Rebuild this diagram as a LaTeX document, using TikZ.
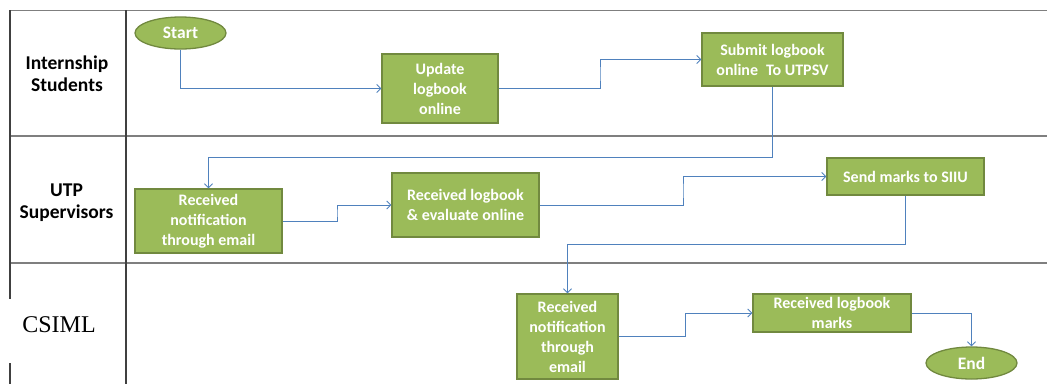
\documentclass[tikz,border=0pt]{standalone}
\usepackage{fontspec}
\setmainfont{Carlito}
\newfontfamily\timesf{Liberation Serif}
\usetikzlibrary{arrows.meta,shapes.geometric,calc}
\definecolor{boxfill}{HTML}{9BBB59}
\definecolor{boxdraw}{HTML}{71893F}
\definecolor{conncol}{HTML}{4F81BD}
\definecolor{gridcol}{HTML}{7F7F7F}
\definecolor{vcol}{HTML}{404040}
\begin{document}
\begin{tikzpicture}[x=1pt,y=-1pt,
 stepbox/.style={draw=boxdraw,fill=boxfill,line width=1.3pt,text=white,font=\bfseries\fontsize{16}{20}\selectfont,align=center,inner sep=0pt},
 term/.style={ellipse,draw=boxdraw,fill=boxfill,line width=1.3pt,text=white,font=\bfseries\fontsize{17.5}{20}\selectfont,minimum width=91pt,minimum height=32pt,inner sep=0pt},
 conn/.style={draw=conncol,line width=0.9pt,-{Straight Barb[length=4pt,width=8pt]}},
 lane/.style={draw=gridcol,line width=1.4pt},
 vline/.style={draw=vcol,line width=1.1pt},
 head/.style={font=\bfseries\fontsize{19.5}{22}\selectfont,align=center}]
\useasboundingbox (0,0) rectangle (1047,384);

% lanes
\draw[lane] (10,10.5) -- (1047,10.5);
\draw[lane] (10,136) -- (1047,136);
\draw[lane] (10,263) -- (1047,263);
\draw[vline] (10,10) -- (10,299);
\draw[vline] (10,363) -- (10,384);
\draw[vline] (126,10) -- (126,384);

% lane headers
\node[head] (h1) at (67,74) {Internship\\Students};
\node[head] (h2) at (66.5,203) {UTP\\Supervisors};
\node[font=\timesf\fontsize{24}{28}\selectfont] (h3) at (59,325) {CSIML};

% nodes
\node[term] (start) at (180.5,33) {Start};
\node[stepbox,minimum width=116pt,minimum height=69pt] (update) at (440,88.5) {Update\\logbook\\online};
\node[stepbox,minimum width=141pt,minimum height=53pt] (submit) at (772.5,59.5) {Submit logbook\\online\enspace To UTPSV};
\node[stepbox,minimum width=147pt,minimum height=64pt] (recv1) at (208.5,221) {Received\\notification\\through email};
\node[stepbox,minimum width=147pt,minimum height=64pt] (recv2) at (465.5,205) {Received logbook\\\& evaluate online};
\node[stepbox,minimum width=157pt,minimum height=37pt] (send) at (905.5,176.5) {Send marks to SIIU};
\node[stepbox,minimum width=101pt,minimum height=85pt] (recv3) at (567.5,336.5) {Received\\notification\\through\\email};
\node[stepbox,minimum width=158pt,minimum height=38pt] (marks) at (832,313) {Received logbook\\marks};
\node[term] (end) at (971.5,363) {End};
\coordinate (j1) at (0,157);

% connectors
\draw[conn] (start.south) |- (update.west);
\draw[conn] (update.east) -| ($(update.east)!.5!(submit.west)$) |- (submit.west);
\draw[conn] (submit.south) -- (submit.south |- j1) -| (recv1.north);
\draw[conn] (recv1.east) -| ($(recv1.east)!.5!(recv2.west)$) |- (recv2.west);
\draw[conn] (recv2.east) -| ($(recv2.east)!.5!(send.west)$) |- (send.west);
\draw[conn] (send.south) |- ($(send.south)!.5!(recv3.north)$) -| (recv3.north);
\draw[conn] (recv3.east) -| ($(recv3.east)!.5!(marks.west)$) |- (marks.west);
\draw[conn] (marks.east) -| (end.north);
\end{tikzpicture}
\end{document}
